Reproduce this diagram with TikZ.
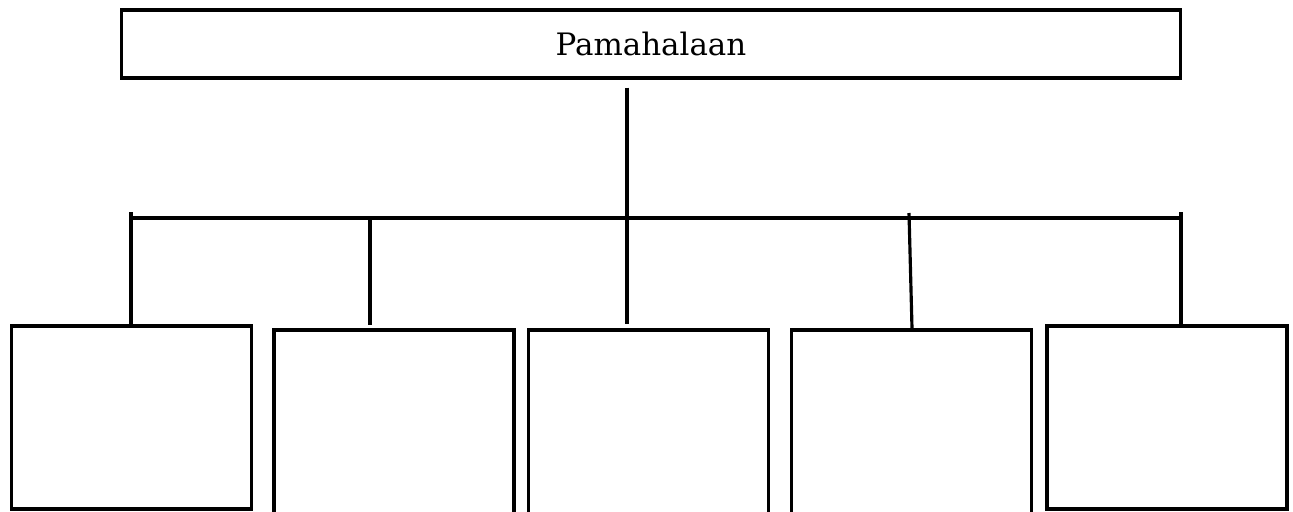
\documentclass[tikz,border=0pt]{standalone}
\usepackage{fontspec}
\setmainfont{DejaVu Serif}
\usetikzlibrary{calc}

\begin{document}
\begin{tikzpicture}[x=0.02cm, y=-0.02cm, line width=1.8pt]
		\tikzset{govbox/.style={draw, rectangle, inner sep=0pt, minimum width=21.2cm, minimum height=1.36cm, font=\fontsize{17.6}{21}\selectfont},
			unitbox/.style={draw, rectangle, inner sep=0pt, minimum width=4.8cm, minimum height=3.66cm},
			openbox/.style={draw, rectangle, inner sep=0pt, minimum width=4.8cm, minimum height=4cm}}
		\useasboundingbox (0,0) rectangle (1293,511);
		\clip (0,0) rectangle (1293,511);
		\node[govbox] (gov) at (651,44) {Pamahalaan};
		\node[unitbox] (u1) at (131.5,417.5) {};
		\node[openbox] (u2) at (394,430) {};
		\node[openbox] (u3) at (648.5,430) {};
		\node[openbox] (u4) at (911.5,430) {};
		\node[unitbox] (u5) at (1167,417.5) {};
		\coordinate (hub) at (627,218);
		\coordinate (lend) at (131,218);
		\coordinate (rend) at (1181,218);
		\draw ($(gov.south -| hub)+(0,8)$) -- (hub);
		\draw (lend) -- (rend);
		\draw ($(lend)+(0,-6)$) -- (u1.north -| lend);
		\draw ($(rend)+(0,-6)$) -- (u5.north -| rend);
		\draw (370,218) -- ($(u2.north -| 370,0)+(0,-3)$);
		\draw (hub) -- ($(u3.north -| hub)+(0,-4)$);
		\draw (909,213) -- (u4.north -| 912,0);
	\end{tikzpicture}
\end{document}
